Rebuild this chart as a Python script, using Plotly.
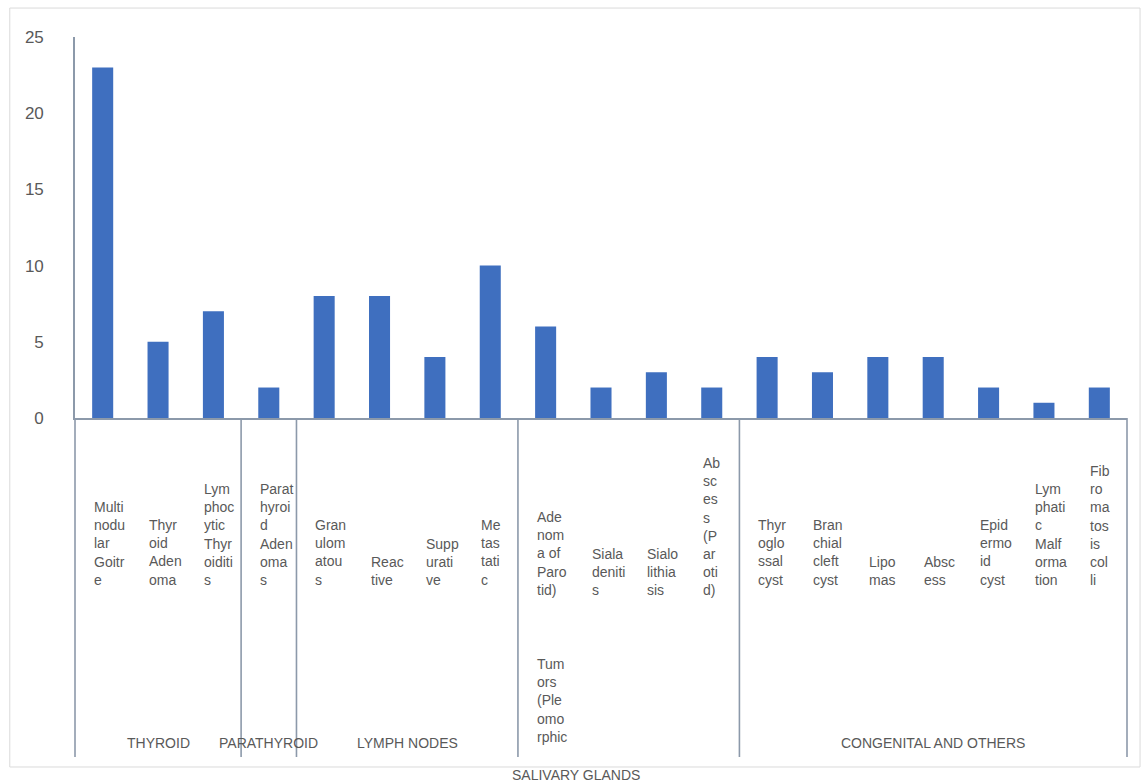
import plotly.graph_objects as go

# ---------------- data ----------------
categories = [
    "Multinodular Goitre", "Thyroid Adenoma", "Lymphocytic Thyroiditis",
    "Parathyroid Adenomas",
    "Granulomatous", "Reactive", "Suppurative", "Metastatic",
    "Adenoma of Parotid) Tumors (Pleomorphic", "Sialadenitis", "Sialolithiasis", "Abscess (Parotid)",
    "Thyroglossal cyst", "Branchial cleft cyst", "Lipomas", "Abscess", "Epidermoid cyst",
    "Lymphatic Malformation", "Fibromatosis colli",
]
values = [23, 5, 7, 2, 8, 8, 4, 10, 6, 2, 3, 2, 4, 3, 4, 4, 2, 1, 2]

# wrapped tick labels as they appear in the chart ("" = blank line)
tick_labels = [
    ["Multi", "nodu", "lar", "Goitr", "e"],
    ["Thyr", "oid", "Aden", "oma"],
    ["Lym", "phoc", "ytic", "Thyr", "oiditi", "s"],
    ["Parat", "hyroi", "d", "Aden", "oma", "s"],
    ["Gran", "ulom", "atou", "s"],
    ["Reac", "tive"],
    ["Supp", "urati", "ve"],
    ["Me", "tas", "tati", "c"],
    ["Ade", "nom", "a of", "Paro", "tid)", "", "Tum", "ors", "(Ple", "omo", "rphic"],
    ["Siala", "deniti", "s"],
    ["Sialo", "lithia", "sis"],
    ["Ab", "sc", "es", "s", "(P", "ar", "oti", "d)"],
    ["Thyr", "oglo", "ssal", "cyst"],
    ["Bran", "chial", "cleft", "cyst"],
    ["Lipo", "mas"],
    ["Absc", "ess"],
    ["Epid", "ermo", "id", "cyst"],
    ["Lym", "phati", "c", "Malf", "orma", "tion"],
    ["Fib", "ro", "ma", "tos", "is", "col", "li"],
]

groups = ["THYROID", "PARATHYROID", "LYMPH NODES", "SALIVARY GLANDS", "CONGENITAL AND OTHERS"]
group_sizes = [3, 1, 4, 4, 7]

y_ticks = [0, 5, 10, 15, 20, 25]

# ---------------- style ----------------
FONT = "Liberation Sans, Arial, sans-serif"
TXT = "#595959"
LINE = "#8C99AA"
BAR = "#3F6FBF"
N = len(categories)

fig = go.Figure()
fig.add_trace(go.Bar(x=categories, y=values, marker=dict(color=BAR, line=dict(width=0)),
                     width=0.38, hoverinfo="x+y"))

shapes = []
annotations = []

# outer chart border
shapes.append(dict(type="rect", xref="paper", yref="paper",
                   x0=-0.062, x1=1.0124, y0=-0.916, y1=1.076,
                   line=dict(color="#DADADA", width=1), layer="below"))

# group dividers under the axis
box_bottom = -0.89
bounds = [0]
for s in group_sizes:
    bounds.append(bounds[-1] + s)
for b in bounds:
    shapes.append(dict(type="line", xref="paper", yref="paper",
                       x0=b / N, x1=b / N, y0=0, y1=box_bottom,
                       line=dict(color=LINE, width=1.6)))

# group index of every category
cat_group = []
for gi, s in enumerate(group_sizes):
    cat_group += [groups[gi]] * s

# category labels
base = -0.452
for cat, lines, grp in zip(categories, tick_labels, cat_group):
    ys = -10 if grp == "SALIVARY GLANDS" else 0
    if "" in lines:
        k = lines.index("")
        first, rest = lines[:k], lines[k + 1:]
    else:
        first, rest = lines, []
    annotations.append(dict(x=cat, xref="x", yref="paper", y=base, yanchor="bottom", yshift=ys,
                            xanchor="left", xshift=-11, align="left", showarrow=False,
                            text="<br>".join(first), font=dict(family=FONT, size=14, color=TXT)))
    if rest:
        annotations.append(dict(x=cat, xref="x", yref="paper", y=base - 0.14, yanchor="top",
                                yshift=ys, xanchor="left", xshift=-11, align="left", showarrow=False,
                                text="<br>".join(rest), font=dict(family=FONT, size=14, color=TXT)))

# group labels
for g, a, b in zip(groups, bounds[:-1], bounds[1:]):
    mid = (a + b) / 2 / N
    if g == "SALIVARY GLANDS":
        annotations.append(dict(x=mid, xref="paper", yref="paper", y=-0.937, yanchor="middle",
                                xanchor="center", xshift=-53, showarrow=False, text=g,
                                font=dict(family=FONT, size=14, color=TXT)))
    else:
        annotations.append(dict(x=mid, xref="paper", yref="paper", y=-0.853, yanchor="middle",
                                xanchor="center", showarrow=False, text=g,
                                font=dict(family=FONT, size=14, color=TXT)))

fig.update_layout(
    width=1143, height=783,
    margin=dict(l=75, r=16, t=37, b=365, pad=0),
    paper_bgcolor="white", plot_bgcolor="white",
    showlegend=False, bargap=0.6,
    shapes=shapes, annotations=annotations,
    xaxis=dict(type="category", range=[-0.5, N - 0.5], showticklabels=False, ticks="",
               showgrid=False, zeroline=False, showline=True, linecolor=LINE, linewidth=1.6),
    yaxis=dict(range=[0, 25], tickvals=y_ticks, ticks="", showgrid=False, zeroline=False,
               showline=True, linecolor=LINE, linewidth=1.6, ticklabelstandoff=26,
               tickfont=dict(family=FONT, size=17, color=TXT)),
)

fig.write_html("out.html")
